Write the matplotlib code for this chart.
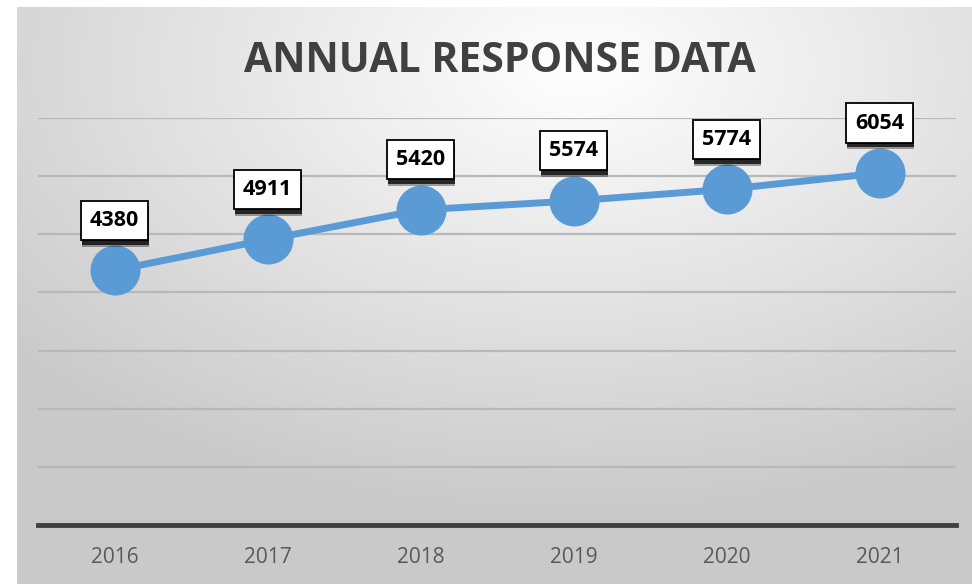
import numpy as np
import matplotlib
matplotlib.use("Agg")
import matplotlib.pyplot as plt
import matplotlib.patheffects as pe

years = ["2016", "2017", "2018", "2019", "2020", "2021"]
responses = [4380, 4911, 5420, 5574, 5774, 6054]
grid_values = [1000, 2000, 3000, 4000, 5000, 6000, 7000]
title = "ANNUAL RESPONSE DATA"

W, H = 972, 584
fig = plt.figure(figsize=(W / 100, H / 100), dpi=100)

# radial grey gradient behind the chart (white near the top centre)
bg = fig.add_axes([17 / W, 0, (W - 17) / W, (H - 7) / H])
yy, xx = np.mgrid[0:577, 0:955]
cx, cy = 560, 60
d = np.sqrt(((xx - cx) / 955) ** 2 + ((yy - cy) / 577) ** 2)
shade = np.clip(1.0 - 0.27 * d, 0.79, 1.0)
bg.imshow(np.dstack([shade, shade, shade]), aspect="auto", interpolation="bilinear")
bg.axis("off")

ax = fig.add_axes([38 / W, (H - 525) / H, (956 - 38) / W, (525 - 118) / H])
ax.patch.set_alpha(0)
x = np.arange(len(years))
ax.set_xlim(-0.5, len(years) - 0.5)
ax.set_ylim(0, 7000)

for g in grid_values:
    ax.axhline(g, color="#b8b8b8", lw=1.6, zorder=1)

ax.plot(x, responses, color="#5b9bd5", lw=5, marker="o", ms=35,
        markeredgecolor="#5b9bd5", solid_capstyle="round", zorder=3)

for xi, v in zip(x, responses):
    t = ax.annotate(str(v), (xi, v), xytext=(0, 36), textcoords="offset points",
                    ha="center", va="center", fontsize=15.5, fontweight="bold",
                    family="Open Sans", color="black", zorder=5,
                    bbox=dict(boxstyle="square,pad=0.42", fc="white", ec="black", lw=1.3))
    # soft dark shadow just under each label box
    t.get_bbox_patch().set_path_effects([
        pe.SimplePatchShadow(offset=(0.5, -5), shadow_rgbFace="black", alpha=0.35),
        pe.SimplePatchShadow(offset=(0.5, -3.5), shadow_rgbFace="black", alpha=0.75),
        pe.Normal()])

ax.set_xticks(x)
ax.set_xticklabels(years, fontsize=15, color="#595959", family="Open Sans")
ax.set_yticks([])
ax.tick_params(axis="x", length=0, pad=16)
for s in ["top", "left", "right"]:
    ax.spines[s].set_visible(False)
ax.spines["bottom"].set_color("#404040")
ax.spines["bottom"].set_linewidth(3.5)
ax.spines["bottom"].set_zorder(4)

fig.text(500 / W, 1 - 62 / H, title, ha="center", va="center", fontsize=29.5,
         fontweight="bold", color="#404040", family="Open Sans")

fig.savefig("out.png", dpi=100)
